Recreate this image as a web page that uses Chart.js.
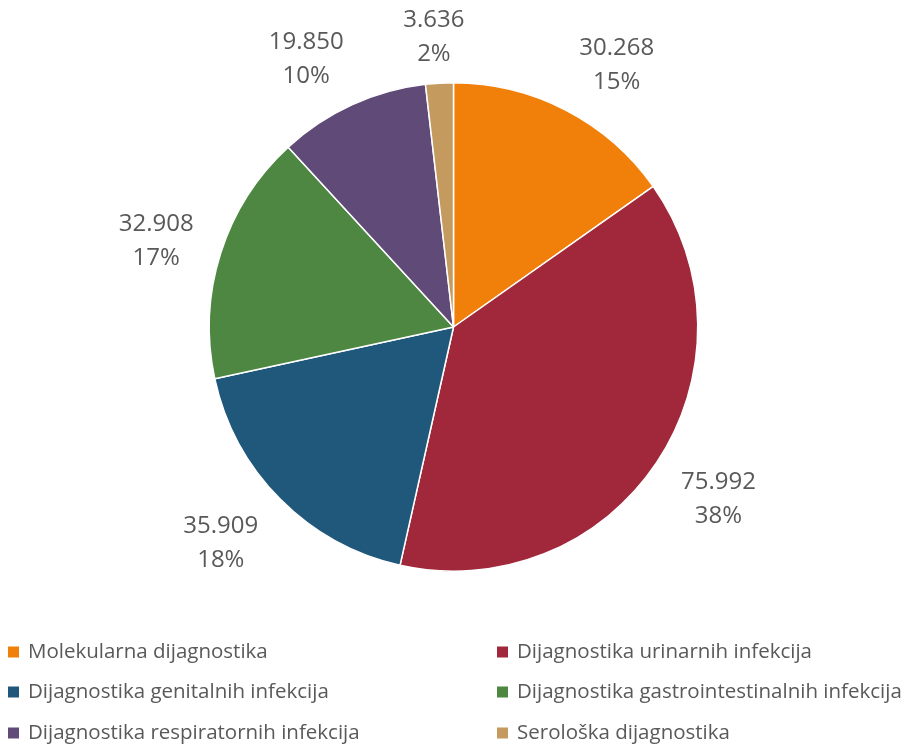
<!DOCTYPE html>
<html><head><meta charset="utf-8">
<script src="https://cdn.jsdelivr.net/npm/chart.js@4"></script>
<style>html,body{margin:0;padding:0;background:#fff}#wrap{width:907px;height:746px;position:relative}</style>
</head><body><div id="wrap"><canvas id="c" width="907" height="746"></canvas></div>
<script>
const categories = ["Molekularna dijagnostika","Dijagnostika urinarnih infekcija","Dijagnostika genitalnih infekcija","Dijagnostika gastrointestinalnih infekcija","Dijagnostika respiratornih infekcija","Serološka dijagnostika"];
const values = [30268, 75992, 35909, 32908, 19850, 3636];
const valueLabels = ["30.268","75.992","35.909","32.908","19.850","3.636"];
const percentLabels = ["15%","38%","18%","17%","10%","2%"];
const colors = ["#F0800A","#A0283A","#1F587A","#4E8742","#604A78","#C49A5E"];
const FONT = "'Open Sans', 'Noto Sans', sans-serif";
const TEXT = "#595959";

const labelPlugin = {
  id: 'outLabels',
  afterDatasetsDraw(chart) {
    const ctx = chart.ctx;
    const meta = chart.getDatasetMeta(0);
    ctx.save();
    ctx.fillStyle = TEXT;
    ctx.font = "24px " + FONT;
    ctx.textAlign = 'center';
    ctx.textBaseline = 'middle';
    const clamp = v => Math.max(-1, Math.min(1, v));
    meta.data.forEach((arc, i) => {
      const mid = (arc.startAngle + arc.endAngle) / 2;
      const c = Math.cos(mid), s = Math.sin(mid);
      const hw = Math.max(ctx.measureText(valueLabels[i]).width, ctx.measureText(percentLabels[i]).width) / 2 + 7;
      const hh = 35;
      const d = arc.outerRadius + 21;
      const px = arc.x + c * d, py = arc.y + s * d;
      const x = px + hw * clamp(c * 2);
      let y = py + hh * s + 5;
      y = Math.max(y, 37);
      ctx.fillText(valueLabels[i], x, y - 17);
      ctx.fillText(percentLabels[i], x, y + 17);
    });
    ctx.restore();
  },
  afterDraw(chart) {
    const ctx = chart.ctx;
    const items = chart.options.plugins.legend.labels.generateLabels(chart);
    ctx.save();
    ctx.font = "20.5px " + FONT;
    ctx.textBaseline = 'middle';
    ctx.textAlign = 'left';
    const colX = [8, 497];
    const rowY = [652, 692, 733];
    items.forEach((it, i) => {
      const x = colX[i % 2], y = rowY[Math.floor(i / 2)];
      ctx.fillStyle = it.fillStyle;
      ctx.fillRect(x, y - 5.5, 11, 11);
      ctx.fillStyle = TEXT;
      ctx.fillText(it.text, x + 20, y);
    });
    ctx.restore();
  }
};

new Chart(document.getElementById('c'), {
  type: 'pie',
  data: {
    labels: categories,
    datasets: [{ data: values, backgroundColor: colors, borderColor: '#ffffff', borderWidth: 1.5 }]
  },
  options: {
    responsive: false,
    animation: false,
    layout: { padding: { top: 82, bottom: 174, left: 0, right: 0 } },
    plugins: { legend: { display: false }, tooltip: { enabled: false } }
  },
  plugins: [labelPlugin]
});
</script></body></html>
